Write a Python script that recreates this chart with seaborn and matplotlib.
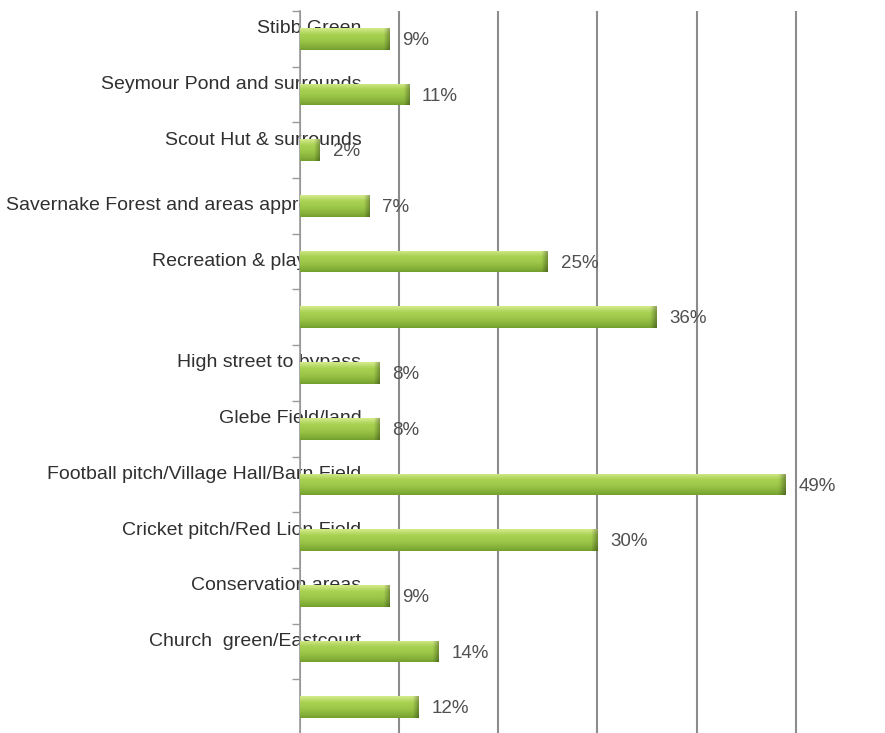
import matplotlib
matplotlib.use("Agg")
import matplotlib.pyplot as plt
import numpy as np
import pandas as pd
import seaborn as sns
from matplotlib.colors import to_rgb

# Survey results: share of respondents naming each open space
areas = [
    "Stibb Green",
    "Seymour Pond and surrounds",
    "Scout Hut & surrounds",
    "Savernake Forest and areas approaches",
    "Recreation & play areas",
    "",
    "High street to bypass",
    "Glebe Field/land",
    "Football pitch/Village Hall/Barn Field",
    "Cricket pitch/Red Lion Field",
    "Conservation areas",
    "Church  green/Eastcourt",
    "",
]
percent = [9, 11, 2, 7, 25, 36, 8, 8, 49, 30, 9, 14, 12]

# vertical nudge of each category name (category units, negative = up)
name_shift = [-0.18, -0.18, -0.18, 0.0, 0.0, -0.18, -0.18, -0.18,
              -0.18, -0.18, -0.18, -0.18, -0.18]

slots = [f"s{i}" for i in range(len(percent))]
df = pd.DataFrame({"slot": slots, "percent": percent})

sns.set_theme(style="white")
plt.rcParams["font.family"] = ["Liberation Sans", "DejaVu Sans"]

W, H = 885, 733
fig = plt.figure(figsize=(W / 100, H / 100), dpi=100)
fig.patch.set_facecolor("white")
ax = fig.add_axes([300 / W, (H - 735) / H, 575 / W, 724 / H])

sns.barplot(data=df, x="percent", y="slot", order=slots, orient="h",
            color="#a2cd4c", width=0.39, ax=ax, zorder=3,
            linewidth=0, saturation=1)

ax.set_xlim(0, 58)
ax.set_ylim(len(slots) - 0.5, -0.5)

# cylinder-like shading on every bar
top_c = np.array(to_rgb("#d4ea8c"))
mid_c = np.array(to_rgb("#a6d04f"))
bot_c = np.array(to_rgb("#74a02e"))
rows = 40
t = np.linspace(0, 1, rows)
prof = np.empty((rows, 3))
for k, tt in enumerate(t):
    if tt < 0.3:
        f = tt / 0.3
        prof[k] = top_c * (1 - f) + mid_c * f
    else:
        f = (tt - 0.3) / 0.7
        prof[k] = mid_c * (1 - f ** 1.6) + bot_c * f ** 1.6
cap = 0.6  # darkened end cap width, in percent units
for p in ax.patches:
    x0, y0 = p.get_x(), p.get_y()
    w, h = p.get_width(), p.get_height()
    cols = 200
    xs = np.linspace(x0, x0 + w, cols)
    dark = np.clip((xs - (x0 + w - cap)) / cap, 0, 1)[None, :, None]
    img = prof[:, None, :] * (1 - 0.3 * dark)
    im = ax.imshow(img, extent=(x0, x0 + w, y0 + h, y0), origin="upper",
                   aspect="auto", zorder=3.5, interpolation="bilinear")
    im.set_clip_path(p)

ax.set_xlim(0, 58)
ax.set_ylim(len(slots) - 0.5, -0.5)

# category names sit behind the bars
for i, name in enumerate(areas):
    ax.text(6.2, i + name_shift[i], name, ha="right", va="center",
            fontsize=14, color="#303030", zorder=1, clip_on=False)

# value labels
for i, v in enumerate(percent):
    ax.text(v + 1.3, i + 0.03, f"{v}%", ha="left", va="center",
            fontsize=13.5, color="#505050",
            zorder=4, clip_on=False)

# vertical gridlines and axis styling
ax.set_xticks(np.arange(0, 60, 10))
ax.xaxis.grid(True, color="#8c8c8c", linewidth=1.5, zorder=0)
ax.set_axisbelow(True)
ax.tick_params(axis="x", bottom=False, labelbottom=False)
ax.set_yticks([])
ax.set_yticks(np.arange(-0.5, len(slots), 1.0), minor=True)
ax.tick_params(axis="y", which="minor", left=True, length=6, width=1,
               color="#9a9a9a", labelleft=False)
ax.set_xlabel("")
ax.set_ylabel("")
for side in ("top", "right", "bottom"):
    ax.spines[side].set_visible(False)
ax.spines["left"].set_color("#9a9a9a")
ax.spines["left"].set_linewidth(1.2)
ax.set_facecolor("white")

fig.savefig("out.png", dpi=100)
